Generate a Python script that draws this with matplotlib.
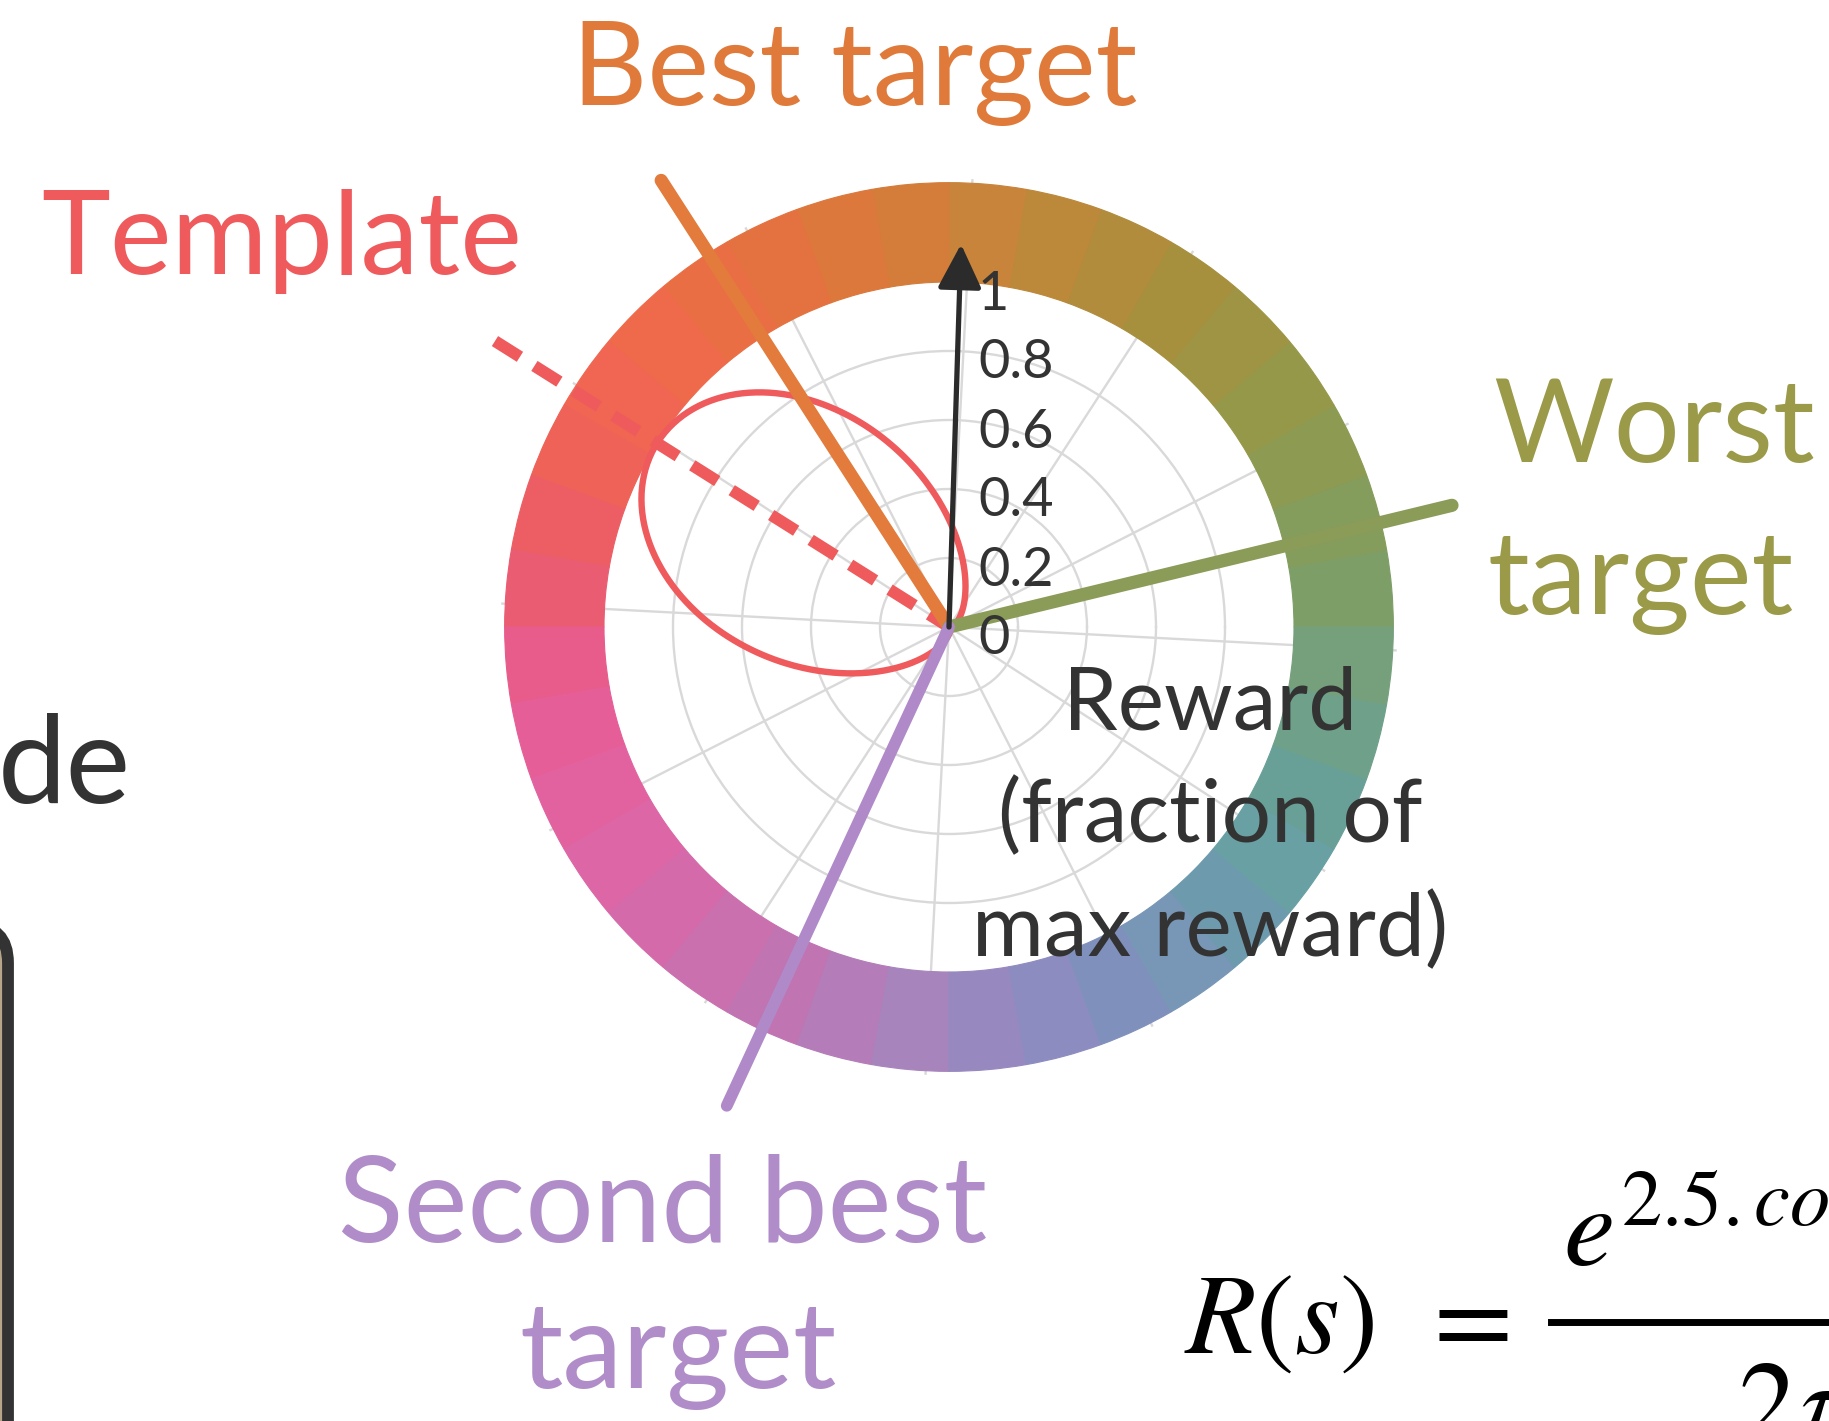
import numpy as np
import matplotlib
matplotlib.use("Agg")
import matplotlib.pyplot as plt
from matplotlib.patches import FancyBboxPatch
from matplotlib.lines import Line2D
from matplotlib.transforms import offset_copy, IdentityTransform

W, H, DPI = 1829, 1421, 100
plt.rcParams["font.family"] = ["Lato", "DejaVu Sans"]
plt.rcParams["mathtext.fontset"] = "stix"

# Colour wheel: 36 segments of 10 degrees, counter-clockwise from east
ring_colors = [
    "#7e9e68", "#849c5c", "#8c9a52", "#969849", "#9e9443", "#a6903e",
    "#b08c3c", "#bc883a", "#c8843a", "#d47c3a", "#dc783c", "#e47240",
    "#ea6e44", "#ee6a4a", "#f06652", "#ee6258", "#ec5e64", "#ea5c72",
    "#e85c8c", "#e65e98", "#e262a0", "#dc66a6", "#d46aaa", "#ca70ae",
    "#c074b2", "#b47cb8", "#a884bc", "#9888c0", "#8c8cc0", "#8090bc",
    "#7896b6", "#6e9aae", "#68a0a4", "#68a098", "#6ea08a", "#76a07c",
]
seg_deg = 10

# Target directions (deg, CCW from east) and line lengths in reward units
target_angles = {"best": 122.8, "template": 147.8, "worst": 13.6, "second": 245.1}
target_lengths = {"best": 1.54, "template": 1.57, "worst": 1.50, "second": 1.53}
target_colors = {"best": "#e27b3b", "template": "#ef5a5c",
                 "worst": "#8b9b58", "second": "#b08ac8"}

# Template reward tuning: R(s) proportional to exp(kappa*cos(s - template))
kappa = 2.5

tick_values = [0, 0.2, 0.4, 0.6, 0.8, 1]
tick_labels = ["0", "0.2", "0.4", "0.6", "0.8", "1"]


def fx(x):
    return x / W


def fy(y):
    return 1 - y / H


fig = plt.figure(figsize=(W / DPI, H / DPI), dpi=DPI)
fig.patch.set_facecolor("white")

# polar axes: centre and pixel radius of r = 1
cx, cy, r1, rmax = 949, 627, 345, 1.3
R = rmax * r1
ax = fig.add_axes([(cx - R) / W, (H - cy - R) / H, 2 * R / W, 2 * R / H],
                  projection="polar")
ax.set_rgrids([0.2, 0.4, 0.6, 0.8], labels=[""] * 4)
spokes = np.sort(np.arange(27, 387, 30) % 360)
ax.set_thetagrids(spokes, labels=[""] * len(spokes))
ax.grid(color="#d9d9d9", lw=1.7)
ax.spines["polar"].set_visible(False)
ax.tick_params(length=0)

# colour ring
seg_centers = np.deg2rad(np.arange(len(ring_colors)) * seg_deg + seg_deg / 2)
ax.bar(seg_centers, 0.288, width=np.deg2rad(seg_deg), bottom=1.0,
       color=ring_colors, edgecolor=ring_colors, linewidth=0.8, zorder=2)

# template tuning curve
mu = np.deg2rad(target_angles["template"])
th = np.linspace(0, 2 * np.pi, 721)
ax.plot(th, np.exp(kappa * (np.cos(th - mu) - 1)), color=target_colors["template"],
        lw=4.6, zorder=3)

# target direction lines
ta = {k: np.deg2rad(v) for k, v in target_angles.items()}
ax.plot([ta["template"]] * 2, [0, target_lengths["template"]],
        color=target_colors["template"], lw=8.5, ls=(0.5, (2.5, 1.45)),
        dash_capstyle="butt", clip_on=False, zorder=4)
for key, z, lw in (("best", 5, 9.5), ("worst", 5, 9.5), ("second", 6, 8.5)):
    ax.plot([ta[key]] * 2, [0, target_lengths[key]], color=target_colors[key],
            lw=lw, solid_capstyle="round", clip_on=False, zorder=z)

ax.set_thetalim(0, 2 * np.pi)
ax.set_ylim(0, rmax)

# reward axis arrow
ax.annotate("", xy=(np.deg2rad(88.2), 1.11), xytext=(0, 0),
            arrowprops=dict(arrowstyle="-|>,head_length=0.9,head_width=0.45",
                            color="#2b2b2b", lw=3.8, mutation_scale=30,
                            shrinkA=0, shrinkB=0),
            annotation_clip=False, zorder=7)

# reward tick labels along the arrow
lab_tr = offset_copy(ax.transData, fig=fig, x=29, y=-12, units="dots")
for v, lab in zip(tick_values, tick_labels):
    ax.text(np.pi / 2, v, lab, transform=lab_tr, ha="left", va="center",
            fontsize=39, color="#333333", zorder=8)

# labels
big = 84
fig.text(fx(572), fy(105), "Best target", fontsize=big, color="#e07a3a",
         ha="left", va="baseline")
fig.text(fx(41), fy(274), "Template", fontsize=big, color="#ef5a5c",
         ha="left", va="baseline")
fig.text(fx(1493), fy(462), "Worst", fontsize=big, color="#9a9a48",
         ha="left", va="baseline")
fig.text(fx(1487), fy(614), "target", fontsize=big, color="#9a9a48",
         ha="left", va="baseline")
fig.text(fx(338), fy(1242), "Second best", fontsize=87, color="#b08cc8",
         ha="left", va="baseline")
fig.text(fx(519), fy(1388), "target", fontsize=87, color="#b08cc8",
         ha="left", va="baseline")

for txt, yb in (("Reward", 729), ("(fraction of", 842), ("max reward)", 956)):
    fig.text(fx(1210), fy(yb), txt, fontsize=63, color="#333333",
             ha="center", va="baseline", zorder=9)

fig.text(fx(131), fy(803), "de", fontsize=88, color="#333333",
         ha="right", va="baseline")

# left panel edge (rounded box running off the canvas)
box = FancyBboxPatch((-400, -100), 408, H - 925 + 100,
                     boxstyle="round,pad=0,rounding_size=38",
                     facecolor="#b8a68a", edgecolor="#333333", lw=8.5)
box.set_transform(IdentityTransform())
fig.patches.append(box)

# reward equation
fig.text(fx(1184), fy(1353), r"$R(s)$", fontsize=83, color="black",
         ha="left", va="baseline")
fig.text(fx(1417), fy(1353), r"$=$", fontsize=83, color="black",
         ha="left", va="baseline")
fig.lines.append(Line2D([fx(1551), fx(W + 20)], [fy(1322), fy(1322)],
                        transform=fig.transFigure, color="black", lw=5))
fig.text(fx(1563), fy(1266), r"$e^{2.5.cos(s-\theta_T)}$", fontsize=83,
         color="black", ha="left", va="baseline")
fig.text(fx(1738), fy(1441), r"$2\pi I_0(2.5)$", fontsize=83, color="black",
         ha="left", va="baseline")

fig.savefig("out.png", dpi=DPI, facecolor="white")
